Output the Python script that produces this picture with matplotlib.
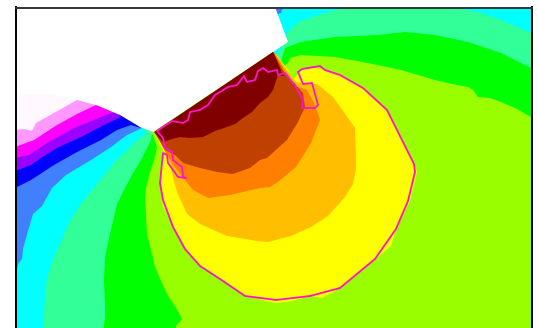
import matplotlib
matplotlib.use("Agg")
import matplotlib.pyplot as plt

# colour bands, low to high
PALE = "#FFF8FF"
PINK = "#FF99FF"
MAGENTA = "#FF00FF"
PURPLE = "#9900FF"
BLUE = "#0000FF"
ROYAL = "#4080FF"
CYAN = "#00FFFF"
SPRING = "#33FF99"
GREEN = "#00FF00"
LIME = "#99FF00"
YELLOW = "#FFFF00"
AMBER = "#FFBF00"
ORANGE = "#FF8000"
RUST = "#BF4000"
MAROON = "#800000"
OUTLINE = "#FF14C8"

# domain limits
x_min, x_max = 15.5, 531.5
y_top, y_bottom = 7.5, 332.0

# left fan: lower edge of every band, closed later through the top left corner
green_left = [(177, 332), (176, 326), (182, 319), (176, 308), (167, 294), (161, 281), (155, 267),
              (151, 250), (147, 234), (146, 215), (145, 197), (146, 188), (150, 172), (154, 160),
              (157, 147), (152, 133)]
spring_left = [(103, 332), (105, 318), (105, 304), (104, 280), (105, 257), (110, 234), (117, 204),
               (124, 190), (132, 175), (141, 160), (151, 140), (152, 132)]
cyan_left = [(43, 332), (44, 314), (45, 297), (47, 277), (53, 260), (60, 244), (70, 221), (80, 205),
             (92, 190), (114, 163), (134, 143), (147, 132)]
royal_left = [(15, 279), (18, 264), (22, 259), (23, 249), (28, 231), (33, 214), (42, 206), (52, 188),
              (66, 175), (91, 160), (111, 147), (127, 135), (142, 128)]
blue_left = [(15, 188), (31, 180), (54, 165), (77, 152), (101, 140), (117, 130), (131, 125), (141, 128)]
purple_left = [(15, 171), (31, 165), (41, 158), (57, 148), (81, 137), (104, 125), (121, 117)]
magenta_left = [(15, 158), (29, 155), (47, 143), (74, 128), (101, 117), (114, 112)]
pink_left = [(15, 147), (34, 140), (57, 125), (77, 114), (96, 105)]
pale_left = [(15, 130), (24, 129), (32, 131), (36, 123), (77, 100)]

# right side: lower edge of the upper bands, closed along the top edge
green_right = [(284, 66), (288, 63), (290, 58), (301, 55), (335, 57), (368, 63), (401, 70),
               (435, 80), (452, 84), (468, 87), (473, 90), (478, 97), (490, 98), (501, 102),
               (515, 108), (531, 117), (531, 7), (275, 7), (270, 50)]
spring_right = [(281, 62), (285, 48), (301, 42), (335, 37), (378, 35), (405, 32), (435, 35),
                (468, 42), (501, 53), (531, 68), (531, 7), (275, 7), (270, 50)]
cyan_right = [(276, 57), (283, 45), (288, 32), (298, 22), (325, 13), (348, 7), (451, 7),
              (481, 13), (501, 20), (531, 33), (531, 7), (275, 7), (270, 50)]
royal_spot = [(273, 7), (283, 7), (281, 13), (276, 15)]

# contours around the loaded face
yellow_zone = [(158, 140), (163, 150), (165, 153), (162, 165), (160, 184), (163, 206), (173, 227),
               (185, 249), (200, 266), (220, 279), (245, 296), (262, 300), (276, 303), (292, 301),
               (310, 296), (322, 298), (340, 288), (375, 259), (391, 246), (396, 229), (410, 201),
               (417, 172), (414, 164), (387, 110), (363, 88), (345, 77), (325, 70), (315, 68),
               (301, 68), (299, 73), (293, 80), (288, 70), (276, 54)]
amber_zone = [(158, 135), (165, 150), (170, 163), (173, 178), (177, 192), (187, 214), (200, 224),
              (227, 236), (257, 241), (268, 242), (291, 236), (311, 227), (328, 216), (345, 197),
              (353, 184), (356, 169), (356, 157), (355, 128), (341, 108), (333, 97), (317, 84),
              (313, 84), (303, 83), (296, 82), (287, 70), (275, 53)]
orange_zone = [(156, 134), (163, 148), (173, 165), (185, 180), (193, 190), (208, 198), (230, 195),
               (260, 188), (270, 187), (278, 182), (296, 167), (311, 143), (320, 120), (318, 113),
               (313, 101), (307, 90), (296, 86), (286, 72), (274, 52)]
rust_zone = [(155, 133), (165, 150), (175, 155), (183, 163), (200, 168), (217, 172), (233, 174),
             (250, 168), (260, 160), (267, 158), (287, 140), (298, 122), (305, 107), (303, 93),
             (293, 82), (285, 74), (273, 52)]
maroon_zone = [(154, 132), (163, 142), (172, 139), (180, 137), (190, 138), (203, 137), (215, 131),
               (227, 127), (235, 124), (243, 118), (252, 112), (260, 103), (268, 97), (273, 90),
               (278, 75), (285, 76), (282, 73), (275, 56), (273, 52)]

# empty wedge above the domain
void_region = [(15, 7), (275, 7), (288, 42), (153, 132), (140, 127), (120, 115), (96, 105),
               (77, 100), (50, 94), (15, 95)]

# outline of the yielded zone
outline_x = [315, 302, 303, 295, 292, 285, 278, 277, 268, 263, 260, 258, 255, 247, 244, 237, 228,
             215, 208, 200, 190, 188, 183, 172, 157, 163, 165, 172, 173, 182, 183, 186, 178, 168,
             167, 163, 160, 163, 173, 185, 200, 220, 245, 276, 310, 340, 375, 396, 408, 415, 414,
             387, 363, 340, 325, 320, 302, 298, 303, 312, 318, 315]
outline_y = [108, 108, 100, 85, 82, 73, 75, 70, 72, 68, 70, 71, 80, 82, 76, 85, 87,
             95, 105, 110, 112, 120, 123, 121, 131, 138, 148, 152, 160, 167, 177, 178, 177, 163,
             155, 153, 183, 200, 227, 249, 266, 279, 296, 300, 296, 288, 259, 229, 201, 172, 164,
             110, 88, 75, 70, 66, 69, 72, 84, 83, 105, 108]

W, H = 538, 328
fig = plt.figure(figsize=(W / 100, H / 100), dpi=100)
ax = fig.add_axes([x_min / W, (H - y_bottom) / H, (x_max - x_min) / W, (y_bottom - y_top) / H])
ax.set_xlim(x_min, x_max)
ax.set_ylim(y_bottom, y_top)
ax.set_xticks([])
ax.set_yticks([])
ax.set_facecolor(LIME)


def band(pts, color):
    ax.fill([p[0] for p in pts], [p[1] for p in pts], color=color, lw=0)


# right side first
band(green_right, GREEN)
band(spring_right, SPRING)
band(cyan_right, CYAN)
band(royal_spot, ROYAL)

# left fan goes low to high, each band overpaints the previous one
corner = [(15, 7), (15, 332)]
left_bands = [(green_left, GREEN), (spring_left, SPRING), (cyan_left, CYAN), (royal_left, ROYAL),
              (blue_left, BLUE), (purple_left, PURPLE), (magenta_left, MAGENTA), (pink_left, PINK),
              (pale_left, PALE)]
for edge, color in left_bands:
    band(edge + corner, color)

band(void_region, "white")
band(yellow_zone, YELLOW)
band(amber_zone, AMBER)
band(orange_zone, ORANGE)
band(rust_zone, RUST)
band(maroon_zone, MAROON)
ax.plot(outline_x, outline_y, color=OUTLINE, lw=1.3)

for name, sp in ax.spines.items():
    sp.set_linewidth(1.4)
    sp.set_color("black")
ax.spines["top"].set_color("#333333")

fig.savefig("out.png", dpi=100)
